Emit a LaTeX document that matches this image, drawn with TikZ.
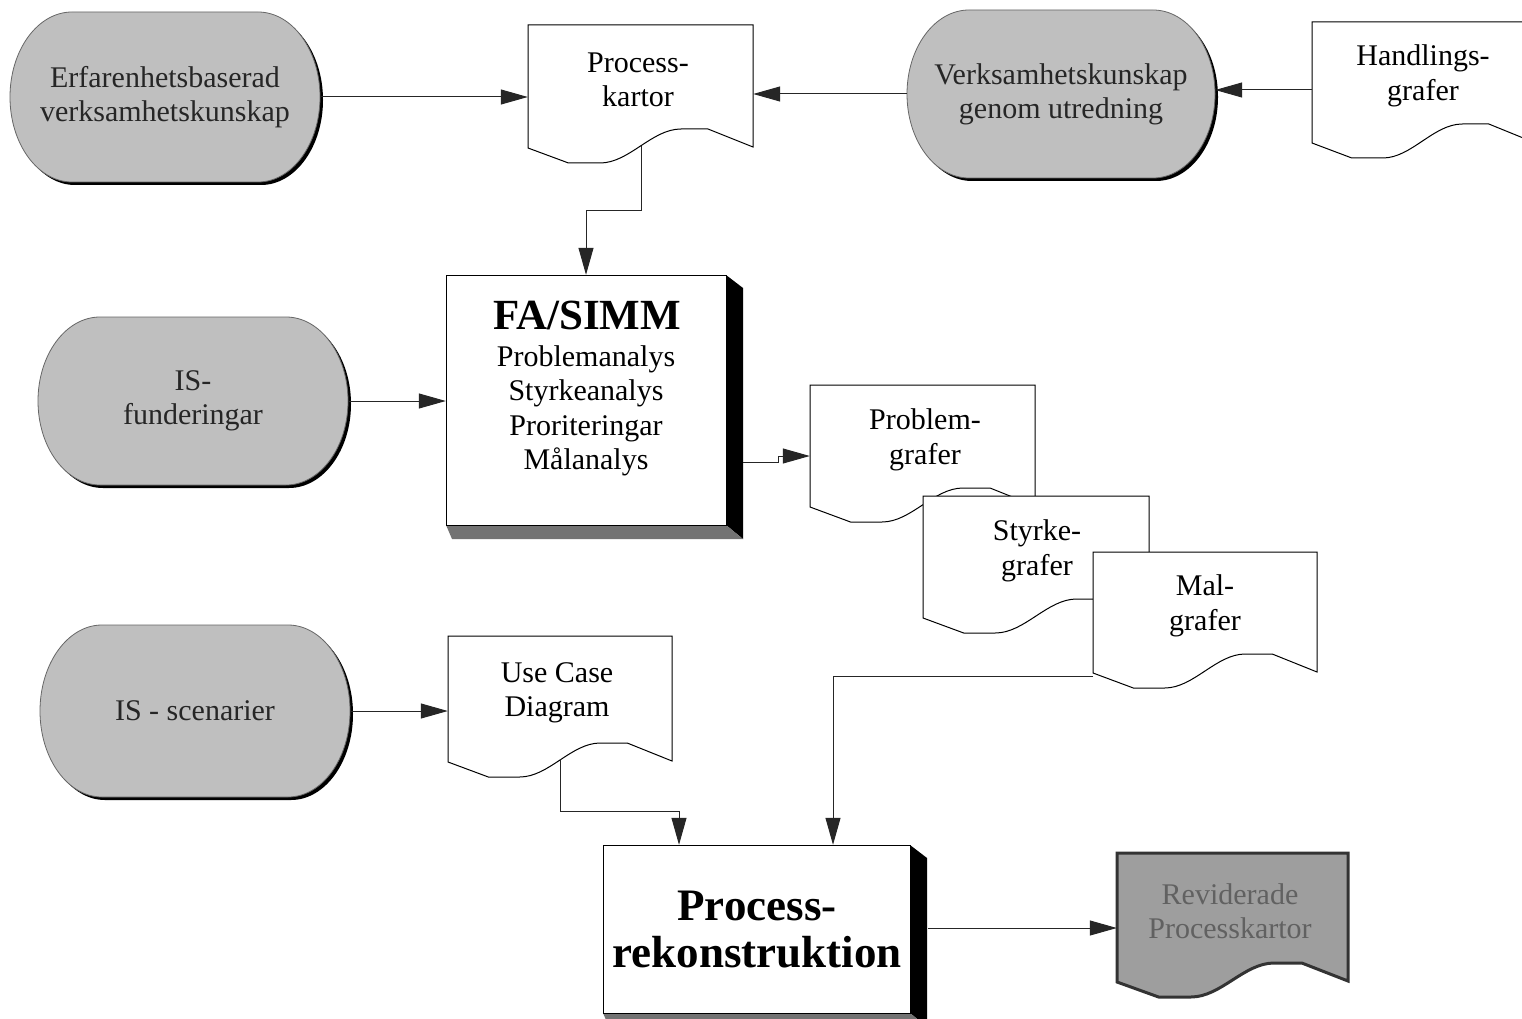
\documentclass[tikz,border=0pt]{standalone}
\usepackage{fontspec}
\setmainfont{Liberation Serif}
\usetikzlibrary{arrows.meta}

\tikzset{
  conn/.style={line width=1pt, draw=black!85},
  arr/.style={conn, -{Triangle[length=27pt,width=15pt]}},
  termfill/.style={fill=black!25, draw=black!60, line width=0.8pt},
  termnode/.style={inner sep=0pt, draw=none, text=black!85, align=center,
    font=\fontsize{30}{34}\selectfont},
  anchorbox/.style={inner sep=0pt, draw=none},
  docline/.style={fill=white, draw=black, line width=1pt},
  revline/.style={fill=black!38, draw=black!80, line width=3pt},
  doctext/.style={align=center, inner sep=0pt, font=\fontsize{30}{34.5}\selectfont},
}

% terminal (stadium) with a dark drop shadow: x0, y0, x1, y1
\newcommand\termshape[4]{%
  \pgfmathsetmacro\ym{(#2+#4)/2}%
  \pgfmathsetmacro\ky{0.5523*(#4-#2)/2}%
  \pgfmathsetmacro\xa{#1+62}%
  \pgfmathsetmacro\xb{#3-62}%
  \pgfmathsetmacro\kx{0.5523*62}%
  \fill[black, shift={(3,3)}] (\xa,#2) -- (\xb,#2)
    .. controls ({\xb+\kx},#2) and (#3,{\ym-\ky}) .. (#3,\ym)
    .. controls (#3,{\ym+\ky}) and ({\xb+\kx},#4) .. (\xb,#4)
    -- (\xa,#4)
    .. controls ({\xa-\kx},#4) and (#1,{\ym+\ky}) .. (#1,\ym)
    .. controls (#1,{\ym-\ky}) and ({\xa-\kx},#2) .. (\xa,#2) -- cycle;
  \path[termfill] (\xa,#2) -- (\xb,#2)
    .. controls ({\xb+\kx},#2) and (#3,{\ym-\ky}) .. (#3,\ym)
    .. controls (#3,{\ym+\ky}) and ({\xb+\kx},#4) .. (\xb,#4)
    -- (\xa,#4)
    .. controls ({\xa-\kx},#4) and (#1,{\ym+\ky}) .. (#1,\ym)
    .. controls (#1,{\ym-\ky}) and ({\xa-\kx},#2) .. (\xa,#2) -- cycle;
}

% document with wavy bottom: style, left x, top y, width, height of left side
\newcommand\docshape[5]{%
  \pgfmathsetmacro\xr{#2+#4}%
  \pgfmathsetmacro\yb{#3+#5}%
  \path[#1] (#2,#3) -- (\xr,#3) -- (\xr,{\yb-1})
    -- ({#2+0.80*#4},{\yb-19}) -- ({#2+0.68*#4},{\yb-19})
    .. controls ({#2+0.55*#4},{\yb-19}) and ({#2+0.45*#4},{\yb+15}) ..
    ({#2+0.32*#4},{\yb+15}) -- ({#2+0.18*#4},{\yb+15}) -- (#2,\yb) -- cycle;
}

% raised box: front face x0, y0, x1, y1 with black side and grey bottom
\newcommand\boxshape[4]{%
  \fill[black] (#3,#2) -- ({#3+17},{#2+13}) -- ({#3+17},{#4+14}) -- (#3,#4) -- cycle;
  \fill[black!55] (#1,#4) -- (#3,#4) -- ({#3+17},{#4+14}) -- ({#1+6},{#4+14}) -- cycle;
  \filldraw[fill=white, draw=black, line width=1pt] (#1,#2) rectangle (#3,#4);
}

\begin{document}
\begin{tikzpicture}[x=1pt, y=-1pt]
\useasboundingbox (0,0) rectangle (1522,1019);
\clip (0,0) rectangle (1522,1019);
\fill[white] (0,0) rectangle (1522,1019);

% ---------- terminals ----------
\termshape{10}{12}{320}{182}
\node[termnode, minimum width=310pt, minimum height=170pt] (t1) at (165,97)
  {Erfarenhetsbaserad\\verksamhetskunskap};
\termshape{907}{10}{1215}{178}
\node[termnode, minimum width=308pt, minimum height=168pt] (t2) at (1061,94)
  {Verksamhetskunskap\\genom utredning};
\termshape{38}{317}{348}{485}
\node[termnode, minimum width=310pt, minimum height=168pt] (t3) at (193,401)
  {IS-\\funderingar};
\termshape{40}{625}{350}{797}
\node[termnode, minimum width=310pt, minimum height=172pt] (t4) at (195,711)
  {IS - scenarier};

% ---------- documents ----------
\docshape{docline}{528}{25}{225}{123}
\node[anchorbox, minimum width=225pt, minimum height=123pt] (pk) at (640.5,86.5) {};
\node[doctext] (pkt) at (638,80) {Process-\\kartor};

\docshape{docline}{1312}{22}{221}{121}
\node[anchorbox, minimum width=221pt, minimum height=121pt] (hg) at (1422.5,82.5) {};
\node[doctext] (hgt) at (1423,76) {Handlings-\\grafer};

\docshape{docline}{810}{385}{225}{122}
\node[anchorbox, minimum width=225pt, minimum height=122pt] (pg) at (922.5,446) {};
\node[doctext] (pgt) at (925,440) {Problem-\\grafer};

\docshape{docline}{923}{496}{226}{122}
\node[anchorbox, minimum width=226pt, minimum height=122pt] (sg) at (1036,557) {};
\node[doctext] (sgt) at (1037,551) {Styrke-\\grafer};

\docshape{docline}{1093}{552}{224}{121}
\node[anchorbox, minimum width=224pt, minimum height=121pt] (mg) at (1205,612.5) {};
\node[doctext] (mgt) at (1205,606) {Mal-\\grafer};

\docshape{docline}{448}{636}{224}{126}
\node[anchorbox, minimum width=224pt, minimum height=126pt] (uc) at (560,699) {};
\node[doctext] (uct) at (557,693) {Use Case\\Diagram};

\docshape{revline}{1117}{853}{231}{129}
\node[anchorbox, minimum width=231pt, minimum height=129pt] (rv) at (1232.5,917.5) {};
\node[doctext, text=black!62] (rvt) at (1230,911) {Reviderade\\Processkartor};

% ---------- raised boxes ----------
\boxshape{446}{275}{726}{525}
\node[anchorbox, minimum width=280pt, minimum height=250pt] (fa) at (586,400) {};
\node[inner sep=0pt, font=\fontsize{43}{46}\selectfont\bfseries] (fat) at (587,315) {FA/SIMM};
\node[doctext] (fal) at (586,411)
  {Problemanalys\\Styrkeanalys\\Proriteringar\\Målanalys};

\boxshape{603}{845}{910}{1013}
\node[anchorbox, minimum width=307pt, minimum height=168pt] (pr) at (756.5,929) {};
\node[align=center, inner sep=0pt, font=\fontsize{45}{47}\selectfont\bfseries] (prt)
  at (757,930) {Process-\\rekonstruktion};

% ---------- connectors ----------
\draw[arr] (t1.east) -- (t1.east -| pk.west);
\draw[arr] (t2.west) -- (t2.west -| pk.east);
\coordinate (hgin) at ([yshift=-7.5pt]hg.west);
\draw[arr] (hgin) -- (hgin -| t2.east);

\coordinate (pkb) at (641,146);
\coordinate (pkbend) at (641,210);
\draw[arr] (pkb) -- (pkbend) -| (fa.north);

\draw[arr] (t3.east) -- (t3.east -| fa.west);

\coordinate (faout) at (743,462);
\coordinate (fastep) at (778,462);
\draw[arr] (faout) -- (fastep) -- ++(0,-6) -- ([yshift=-10pt]pg.west);

\draw[arr] (t4.east) -- (t4.east -| uc.west);

\coordinate (ucb) at (560,759);
\coordinate (ucbend) at (560,811);
\draw[arr] (ucb) -- (ucbend) -| ([xshift=-77.5pt]pr.north);

\coordinate (mgout) at (1093,676);
\draw[arr] (mgout) -| ([xshift=76.5pt]pr.north);

\coordinate (prout) at (928,928);
\draw[arr] (prout) -- (prout -| rv.west);
\end{tikzpicture}
\end{document}
